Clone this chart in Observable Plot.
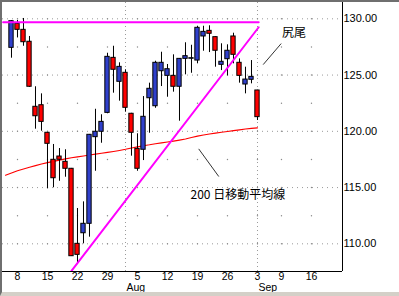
<!DOCTYPE html>
<html><head><meta charset="utf-8">
<script src="https://cdn.jsdelivr.net/npm/d3@7"></script>
<script src="https://cdn.jsdelivr.net/npm/@observablehq/plot@0.6"></script>
<style>
body{margin:0;background:#fff}
#wrap{position:relative;width:399px;height:296px;overflow:hidden;background:#fff}
#frame{position:absolute;left:0;top:0;width:399px;height:296px;box-sizing:border-box;border-top:2px solid #6f6f6f;border-left:2px solid #6f6f6f;border-bottom:4px solid #d4d0c8;pointer-events:none}
#wrap svg{position:absolute;left:0;top:0}
</style></head><body><div id="wrap"><div id="frame"></div></div>
<script>
// Trading calendar (2013), first entry = Jul 3 (index -1)
const calStart = "2013-07-03", calEnd = "2013-09-21";
const holidays = ["2013-07-04", "2013-09-02"];

// Daily candles from Jul 5 to Sep 3
const opens  = [127.42,129.56,129.02,127.96,122.18,122.32,119.87,117.47,117.76,117.29,
                116.67,110.00,110.94,111.78,119.48,119.96,121.64,126.53,124.40,125.20,
                121.56,118.44,118.36,122.94,122.23,125.34,124.93,124.93,123.96,126.44,
                126.45,126.29,128.43,128.93,128.37,125.91,126.41,128.43,126.09,124.16,
                124.58,123.63];
const highs  = [129.85,129.85,130.03,128.43,123.96,123.33,119.90,118.83,118.47,118.36,
                116.70,113.14,113.73,119.72,121.96,121.47,126.94,127.56,126.09,125.47,
                121.60,119.78,123.09,124.28,126.23,127.03,125.94,126.80,126.46,127.87,
                127.65,129.34,129.34,129.38,128.40,127.78,127.69,128.72,126.44,125.70,
                126.29,123.65];
const lows   = [126.50,128.30,127.56,123.90,120.19,120.01,114.89,114.98,115.56,115.92,
                108.88,108.16,110.00,110.59,116.45,118.94,121.56,123.39,122.68,121.70,
                117.79,116.45,117.40,119.83,122.05,123.98,123.03,123.48,120.90,125.02,
                125.16,126.00,127.12,127.00,125.70,125.40,124.93,126.00,124.28,123.33,
                124.22,120.96];
const closes = [129.79,129.02,127.92,123.96,121.34,120.84,118.89,115.83,117.47,116.67,
                108.90,109.02,111.78,119.69,119.96,120.84,126.62,125.47,125.73,122.09,
                119.87,116.67,121.29,123.78,126.09,126.09,125.52,123.96,126.44,126.68,
                126.50,129.20,128.84,128.67,127.16,126.18,127.16,126.80,124.93,124.60,
                124.84,121.26];
// 200-day moving average, Jul 3 .. Sep 3
const ma200 = [116.10,116.30,116.50,116.65,116.80,116.95,117.10,117.22,117.33,117.44,
               117.55,117.65,117.73,117.81,117.89,117.97,118.05,118.13,118.21,118.30,
               118.40,118.52,118.62,118.72,118.80,118.90,118.97,119.05,119.13,119.22,
               119.32,119.45,119.57,119.67,119.76,119.84,119.92,119.99,120.06,120.13,
               120.20,120.26,120.31];
const yTicks = [110, 115, 120, 125, 130];
const minorLevels = [110, 112.5, 115, 117.5, 120, 122.5, 125, 127.5, 130];

// trend lines (index, price)
const resistance = [{x: -1.4, y: 129.7}, {x: 41.2, y: 129.7}];
const support = [{x: 10.0, y: 107.6}, {x: 41.2, y: 129.25}];
const notes = [
  {text: "尻尾", x: 45.1, y: 128.69, x1: 41.95, y1: 125.93, x2: 44.95, y2: 127.8},
  {text: "200 日移動平均線", x: 29.83, y: 114.3, x1: 31.2, y1: 118.44, x2: 34.55, y2: 115.98}
];

const fmt = d3.utcFormat("%Y-%m-%d");
const days = d3.utcDay.range(new Date(calStart), new Date(calEnd))
  .filter(d => d.getUTCDay() > 0 && d.getUTCDay() < 6 && !holidays.includes(fmt(d)));
const cal = days.map((d, k) => ({date: d, idx: k - 1}));

const candles = opens.map((o, i) => ({
  idx: i, open: o, high: highs[i], low: lows[i], close: closes[i], up: closes[i] >= o
}));
const maData = ma200.map((v, k) => ({idx: k - 1, v}));

const weekTicks = cal.filter((c, k) => k > 0 && c.idx >= 0 &&
  +d3.utcMonday.floor(c.date) !== +d3.utcMonday.floor(cal[k - 1].date));
const monthTicks = cal.filter((c, k) => k > 0 && c.date.getUTCMonth() !== cal[k - 1].date.getUTCMonth());
const gridDots = weekTicks.flatMap(w => minorLevels.map(l => ({idx: w.idx, v: l})));

const xDom = [-1.5, 55.17], yDom = [107.54, 131.45];

const chart = Plot.plot({
  width: 399, height: 296,
  marginTop: 2, marginRight: 57, marginBottom: 25, marginLeft: 2,
  x: {domain: xDom, axis: null},
  y: {domain: yDom, axis: null},
  style: {fontFamily: "'Liberation Sans', Arial, sans-serif", fontSize: "11px", background: "transparent"},
  marks: [
    Plot.ruleY(yTicks, {stroke: "#9a9a9a", strokeDasharray: "1,4"}),
    Plot.ruleX(monthTicks, {x: "idx", stroke: "#9a9a9a", strokeDasharray: "1,3"}),
    Plot.dot(gridDots, {x: "idx", y: "v", r: 0.7, fill: "#8a8a8a", stroke: null}),
    Plot.line(maData, {x: "idx", y: "v", stroke: "#ff0000", strokeWidth: 1.1}),
    Plot.ruleX(candles, {x: "idx", y1: "low", y2: "high", stroke: "#000", strokeWidth: 1}),
    Plot.rect(candles, {x1: d => d.idx - 0.36, x2: d => d.idx + 0.36, y1: "open", y2: "close",
      fill: d => d.up ? "#3040cc" : "#ff0000", stroke: "#000", strokeWidth: 1}),
    Plot.line(resistance, {x: "x", y: "y", stroke: "#ff00ff", strokeWidth: 2}),
    Plot.line(support, {x: "x", y: "y", stroke: "#ff00ff", strokeWidth: 2}),
    Plot.link(notes, {x1: "x1", y1: "y1", x2: "x2", y2: "y2", stroke: "#333", strokeWidth: 1}),
    Plot.text(notes, {x: "x", y: "y", text: "text", textAnchor: "start", lineAnchor: "middle",
      fontSize: 12, fontFamily: "'Noto Sans CJK JP', sans-serif", fill: "#000"}),
    Plot.ruleX([xDom[1]], {stroke: "#000", strokeWidth: 1}),
    Plot.ruleY([yDom[0]], {stroke: "#000", strokeWidth: 1}),
    Plot.text(yTicks, {x: xDom[1], y: d => d, text: d => d.toFixed(2), textAnchor: "start",
      lineAnchor: "middle", dx: 1, fill: "#000"}),
    Plot.text(weekTicks, {x: "idx", y: yDom[0], text: d => String(d.date.getUTCDate()),
      lineAnchor: "middle", dy: 5.5, fontSize: 10.5, fill: "#000"}),
    Plot.text(monthTicks, {x: "idx", y: yDom[0], text: d => d3.utcFormat("%b")(d.date),
      textAnchor: "start", lineAnchor: "middle", dx: 1, dy: 16.5, fontSize: 10.5, fill: "#000"})
  ]
});
document.getElementById("wrap").insertBefore(chart, document.getElementById("frame"));
</script>
</body></html>
